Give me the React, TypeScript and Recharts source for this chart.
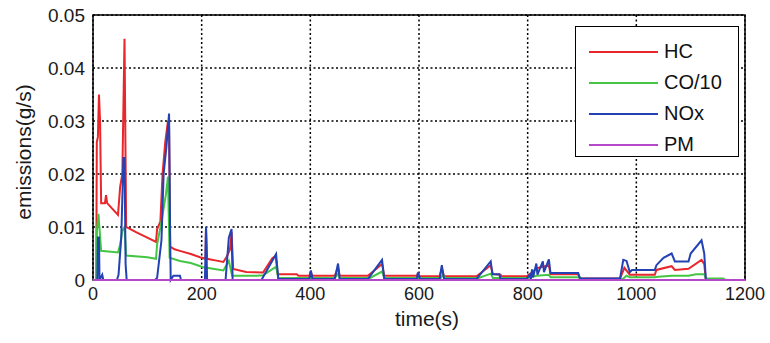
import { CartesianGrid, Legend, Line, LineChart, ReferenceArea, XAxis, YAxis } from "recharts";

// [time (s), emission (g/s)]
const hcPoints: [number, number][] = [
  [0, 0], [6, 0], [7, 0.026], [9, 0.027], [11, 0.035], [13, 0.03], [15, 0.0145], [22, 0.0145],
  [24, 0.016], [26, 0.0145], [46, 0.0123], [50, 0.0176], [54, 0.02], [58, 0.0455], [61, 0.01],
  [80, 0.009], [100, 0.008], [116, 0.0072], [118, 0.0096], [124, 0.011], [128, 0.02], [133, 0.026],
  [138, 0.03], [140, 0.029], [142, 0.0063], [150, 0.0058], [160, 0.0055], [180, 0.0049],
  [197, 0.0043], [207, 0.004], [208, 0.01], [210, 0.004], [225, 0.0037], [240, 0.0034],
  [246, 0.0044], [252, 0.0057], [255, 0.009], [258, 0.0021], [282, 0.0015], [313, 0.0014],
  [330, 0.0041], [336, 0.0045], [340, 0.0011], [375, 0.0011], [378, 0.0008], [398, 0.0008],
  [401, 0.0014], [404, 0.0008], [445, 0.0008], [451, 0.0024], [454, 0.0008], [506, 0.0008],
  [532, 0.003], [536, 0.0008], [596, 0.0008], [598, 0.0012], [601, 0.0007], [638, 0.0007],
  [642, 0.0022], [646, 0.0007], [706, 0.0007], [732, 0.0028], [736, 0.0011], [750, 0.001],
  [752, 0.0007], [798, 0.0007], [808, 0.0014], [816, 0.0022], [828, 0.0025], [839, 0.0028],
  [842, 0.0011], [893, 0.0011], [896, 0.0003], [970, 0.0003], [978, 0.0023], [988, 0.001],
  [1034, 0.001], [1037, 0.0019], [1065, 0.0026], [1071, 0.0019], [1096, 0.0021], [1120, 0.0038],
  [1125, 0.003], [1128, 0], [1200, 0],
];

const coPoints: [number, number][] = [
  [0, 0], [6, 0], [7, 0.009], [10, 0.0125], [15, 0.0055], [46, 0.0052], [50, 0.0067],
  [54, 0.0093], [58, 0.01], [61, 0.0046], [100, 0.0043], [116, 0.004], [118, 0.0067],
  [126, 0.011], [134, 0.016], [138, 0.0195], [141, 0.0042], [160, 0.0036], [180, 0.0032],
  [203, 0.0024], [215, 0.0022], [240, 0.0018], [250, 0.0036], [256, 0.0008], [301, 0.0008],
  [313, 0.0009], [337, 0.0025], [341, 0.0004], [445, 0.0004], [451, 0.0012], [454, 0.0004],
  [510, 0.0004], [532, 0.0016], [536, 0.0004], [640, 0.0004], [644, 0.001], [648, 0.0004],
  [710, 0.0004], [732, 0.0012], [736, 0.0004], [800, 0.0004], [816, 0.0008], [839, 0.001],
  [842, 0.0005], [896, 0.0005], [900, 0.0002], [975, 0.0002], [982, 0.0008], [988, 0.0005],
  [1034, 0.0005], [1040, 0.0006], [1065, 0.0008], [1096, 0.0008], [1110, 0.0011],
  [1125, 0.0011], [1128, 0.0003], [1160, 0.0003], [1165, 0], [1200, 0],
];

const noxPoints: [number, number][] = [
  [0, 0], [8, 0], [9, 0.008], [11, 0.008], [12, 0], [17, 0.001], [19, 0], [44, 0], [47, 0.001],
  [52, 0.008], [56, 0.023], [58, 0.023], [60, 0.003], [62, 0], [114, 0], [118, 0.0004],
  [126, 0.0075], [130, 0.02], [135, 0.025], [140, 0.0314], [142, 0.008], [143, 0], [148, 0.0008],
  [160, 0.0008], [162, 0], [206, 0], [208, 0.01], [210, 0], [244, 0], [250, 0.008], [255, 0.0096],
  [257, 0], [310, 0], [337, 0.0049], [341, 0.0002], [398, 0.0002], [401, 0.0018], [404, 0.0002],
  [445, 0.0002], [451, 0.0031], [454, 0.0002], [506, 0.0002], [532, 0.0038], [536, 0.0002],
  [596, 0.0002], [598, 0.0014], [602, 0.0002], [638, 0.0002], [642, 0.0028], [646, 0.0002],
  [706, 0.0002], [732, 0.0035], [735, 0.0011], [748, 0.0011], [750, 0.0002], [798, 0.0002],
  [804, 0.001], [806, 0.0002], [808, 0.002], [810, 0.0005], [816, 0.0031], [818, 0.001],
  [828, 0.0035], [830, 0.0015], [839, 0.0039], [842, 0.0013], [893, 0.0013], [896, 0.0003],
  [970, 0.0003], [976, 0.0038], [982, 0.0036], [988, 0.0015], [992, 0.0019], [1034, 0.0019],
  [1037, 0.0028], [1050, 0.0042], [1065, 0.005], [1071, 0.0035], [1096, 0.0035], [1100, 0.005],
  [1120, 0.0075], [1125, 0.005], [1128, 0], [1200, 0],
];

const pmPoints: [number, number][] = [
  [0, 0], [1200, 0],
];

const xTicks = [0, 200, 400, 600, 800, 1000, 1200];
const yTicks = [0, 0.01, 0.02, 0.03, 0.04, 0.05];

const series = [
  { name: "HC", points: hcPoints, color: "#e8262b" },
  { name: "CO/10", points: coPoints, color: "#44c644" },
  { name: "NOx", points: noxPoints, color: "#2342b4" },
  { name: "PM", points: pmPoints, color: "#b548c8" },
];

const font = "'Liberation Sans', Arial, sans-serif";

const renderLegend = () => (
  <div
    style={{
      boxSizing: "border-box",
      width: 164,
      height: 131,
      border: "1px solid #000",
      background: "#fff",
      paddingTop: 9,
      fontFamily: font,
      fontSize: 20,
      color: "#111",
    }}
  >
    {series.map((s) => (
      <div key={s.name} style={{ display: "flex", alignItems: "center", height: 31 }}>
        <svg width={88} height={10}>
          <line x1={13} x2={82} y1={5} y2={5} stroke={s.color} strokeWidth={2} />
        </svg>
        <span>{s.name}</span>
      </div>
    ))}
  </div>
);

const App = () => {
  return (
    <div style={{ position: "absolute", left: 0, top: 0 }}>
      <LineChart width={770} height={343} margin={{ top: 15, right: 25, bottom: 0, left: 0 }}>
        <CartesianGrid stroke="#000" strokeDasharray="2 2.5" strokeWidth={1.5} />
        <XAxis
          dataKey="t"
          type="number"
          domain={[0, 1200]}
          ticks={xTicks}
          height={63}
          axisLine={false}
          tickLine={false}
          tickMargin={1}
          tick={{ fontSize: 18, fill: "#1a1a1a", fontFamily: font }}
          label={{
            content: () => (
              <text x={427} y={326} textAnchor="middle" fontSize={21} fill="#1a1a1a" fontFamily={font}>
                time(s)
              </text>
            ),
          }}
        />
        <YAxis
          type="number"
          domain={[0, 0.05]}
          ticks={yTicks}
          width={93}
          axisLine={false}
          tickLine={false}
          tickFormatter={(v: number) => (v === 0 ? "0" : v.toFixed(2))}
          tick={{ fontSize: 19, fill: "#1a1a1a", fontFamily: font }}
          label={{
            content: () => (
              <text
                x={23}
                y={152}
                transform="rotate(-90 23 152)"
                textAnchor="middle"
                dominantBaseline="central"
                fontSize={21}
                fill="#1a1a1a"
                fontFamily={font}
              >
                emissions(g/s)
              </text>
            ),
          }}
        />
        {series.map((s) => (
          <Line
            key={s.name}
            name={s.name}
            data={s.points.map(([t, v]) => ({ t, v }))}
            dataKey="v"
            type="linear"
            stroke={s.color}
            strokeWidth={2}
            dot={false}
            activeDot={false}
            isAnimationActive={false}
          />
        ))}
        <ReferenceArea x1={0} x2={1200} y1={0} y2={0.05} fill="none" stroke="#000" strokeWidth={1.5} />
        <Legend
          layout="vertical"
          align="center"
          verticalAlign="middle"
          content={renderLegend}
          wrapperStyle={{ position: "absolute", left: 575, top: 26, width: 164, height: 131 }}
        />
      </LineChart>
    </div>
  );
};

export default App;
